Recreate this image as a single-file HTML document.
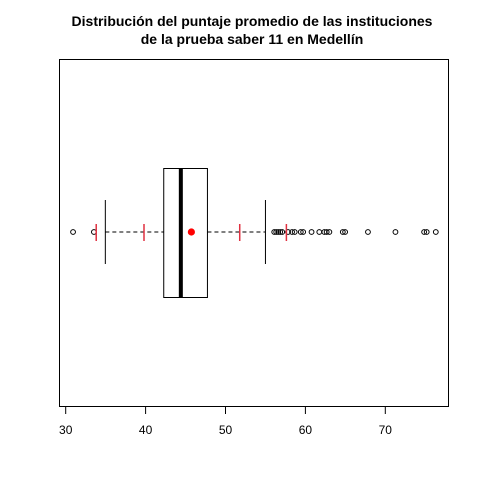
<!DOCTYPE html>
<html><head><meta charset="utf-8"><style>
body{margin:0;background:#fff;}
svg{display:block;font-family:"Liberation Sans",Arial,sans-serif;}
</style></head><body>
<svg id="chart" width="480" height="480">
<text x="252" y="26" text-anchor="middle" font-size="14" font-weight="bold">Distribución del puntaje promedio de las instituciones</text>
<text x="252" y="44" text-anchor="middle" font-size="14" font-weight="bold">de la prueba saber 11 en Medellín</text>
<rect x="59.5" y="59.5" width="389" height="347" fill="none" stroke="#000"/>
<g id="g"></g>
</svg>
<script>
const ticks=[30,40,50,60,70];
const stats=[34.96,42.27,44.41,47.74,55.0]; // whisker low, q1, median, q3, whisker high
const outliers=[30.92,33.53,56.1,56.35,56.6,56.85,57.1,57.83,58.33,58.66,59.42,59.72,60.77,61.74,62.37,62.66,63.0,64.68,64.97,67.83,71.27,74.86,75.18,76.32];
const meanValue=[45.73];
const redMarks=[33.82,39.8,51.78,57.62];
const ns="http://www.w3.org/2000/svg";
const g=document.getElementById('g');
const X=v=>65.7+(v-30)*7.99;
const cy=232;
function mk(t,a){const e=document.createElementNS(ns,t);for(const k in a)e.setAttribute(k,a[k]);g.appendChild(e);return e;}
ticks.forEach(t=>{
 const l=mk('line',{x1:X(t),x2:X(t),y1:407,y2:414,stroke:'#000'});
 
 
 const tx=mk('text',{x:X(t),y:434,'text-anchor':'middle','font-size':12});
 tx.textContent=t;
 
 
});
let e;
e=mk('line',{x1:X(stats[0]),x2:X(stats[1]),y1:cy,y2:cy,stroke:'#000','stroke-dasharray':'4,3'});


e=mk('line',{x1:X(stats[3]),x2:X(stats[4]),y1:cy,y2:cy,stroke:'#000','stroke-dasharray':'4,3'});


[stats[0],stats[4]].forEach(v=>{
 const l=mk('line',{x1:X(v),x2:X(v),y1:200,y2:264,stroke:'#000'});
 
 
});
e=mk('rect',{x:X(stats[1]),y:168.5,width:X(stats[3])-X(stats[1]),height:129,fill:'#fff',stroke:'#000'});


e=mk('line',{x1:X(stats[2]),x2:X(stats[2]),y1:168,y2:298,stroke:'#000','stroke-width':4});


outliers.forEach(v=>{
 const c=mk('circle',{cx:X(v),cy:cy,r:2.4,fill:'none',stroke:'#000','stroke-width':1});
 
 
});
redMarks.forEach(v=>{
 const l=mk('line',{x1:X(v),x2:X(v),y1:224,y2:241,stroke:'#e03040','stroke-width':1.5});
 
 
});
meanValue.forEach(v=>{
 const c=mk('circle',{cx:X(v),cy:cy,r:3.6,fill:'#f00'});
 
 
});
</script>
</body></html>
